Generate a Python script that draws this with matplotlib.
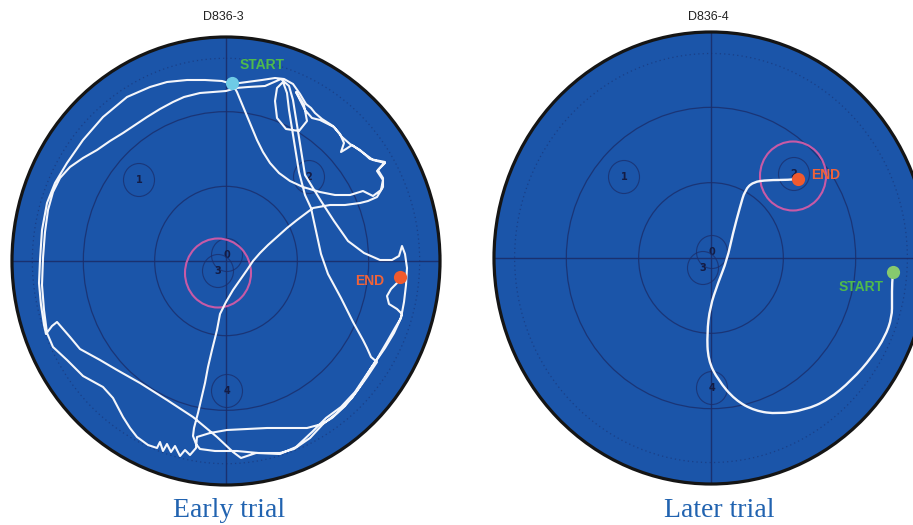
import matplotlib
matplotlib.use("Agg")
import matplotlib.pyplot as plt
from matplotlib.patches import Ellipse, PathPatch
from matplotlib.path import Path
import numpy as np

W, H = 913, 525

# ---------------- data (pool/camera units, origin = pool centre, y downward) ----------------
trial_ids = ["D836-3", "D836-4"]
captions = ["Early trial", "Later trial"]

early_x = [6, 11, 16, 21, 26, 31, 37, 44, 53, 64, 77, 94, 109, 124, 137, 147, 155, 157, 151, 159,
           147, 136, 126, 120, 115, 118, 114, 107, 96, 89, 85, 80, 74, 67, 58, 49, 36, 21, 6,
           -4, -21, -39, -59, -76, -99, -123, -143, -159, -171, -179, -184, -186, -187, -185, -182, -180,
           -174, -169, -162, -156, -146, -126, -109, -86, -59, -33, -9, 7, 15,
           30, 54, 68, 84, 97, 111, 126, 138, 145, 151, 161, 169, 175, 178, 180, 181, 179, 176,
           173, 166, 154, 138, 122, 108, 95, 87, 79, 75, 71, 67, 63, 55,
           39, 22, 10, 0,
           -13, -26, -42, -53, -66, -79, -91, -103, -116, -129, -143, -156, -166, -173, -178, -181, -183, -184, -182, -179,
           -173, -159, -143, -123, -113, -103, -96, -89, -78, -69,
           -66, -63, -59, -55, -51, -46, -41, -36, -30,
           -29, -16, 1, 21, 41, 64, 81, 96, 106, 119, 131, 141, 147, 151, 145,
           141, 137, 127, 115, 102, 95, 90, 85, 79, 73, 67, 63, 61, 57,
           51, 49, 51, 60, 73, 81, 78, 70,
           79, 86, 94, 108, 116, 124, 134, 144, 159, 152, 157, 157,
           151, 142, 134, 119, 104, 87, 71, 61, 51, 42, 34, 27, 21, 14, 7, 0, -6, -9, -14, -18, -21, -25, -28, -32, -33, -30, -26,
           -11, 11, 32, 54, 70, 86, 100, 115, 129, 141, 150, 159, 168, 174, 176, 171, 163, 161, 165, 171, 174]
early_y = [-178, -169, -157, -145, -133, -121, -109, -98, -88, -80, -74, -69, -66, -66, -70, -65, -71, -81, -90, -98,
           -101, -109, -116, -112, -109, -118, -127, -135, -142, -148, -153, -157, -167, -177, -182, -183, -181, -179, -177,
           -180, -181, -181, -179, -174, -164, -144, -121, -98, -78, -58, -31, -1, 22, 44, 64, 73,
           65, 61, 69, 76, 88, 99, 109, 122, 139, 156, 176, 191, 197,
           192, 192, 188, 177, 163, 152, 137, 119, 107, 98, 81, 67, 57, 41, 24, 7, -7, -15,
           -5, -1, -1, -8, -20, -40, -60, -73, -86, -111, -136, -161, -175, -182,
           -175, -174, -173, -170,
           -169, -168, -164, -159, -152, -144, -136, -128, -120, -111, -103, -94, -83, -69, -51, -29, -3, 24, 49, 72,
           86, 99, 115, 126, 137, 156, 167, 176, 184, 187,
           181, 190, 183, 191, 185, 195, 189, 194, 187,
           176, 172, 169, 168, 167, 167, 167, 163, 157, 145, 130, 116, 107, 101, 96,
           87, 79, 61, 37, 13, -7, -30, -53, -66, -89, -126, -151, -168, -179,
           -173, -160, -143, -132, -130, -140, -156, -169,
           -151, -143, -141, -134, -124, -117, -111, -102, -99, -91, -83, -74,
           -64, -60, -58, -56, -56, -53, -41, -33, -24, -16, -8, 0, 9, 19, 29, 41, 53, 69, 89, 106, 122, 139, 152, 167, 175, 183, 188,
           190, 190, 192, 193, 186, 171, 157, 146, 131, 113, 100, 87, 72, 59, 53, 48, 43, 35, 28, 22, 16]

later_x = [182, 181, 181, 181, 174, 161, 141, 117, 94, 67, 44, 24, 7, -3, -4, -1, 7, 16, 22, 29, 34, 42, 57, 77, 87]
later_y = [14, 25, 42, 59, 79, 99, 122, 142, 152, 156, 153, 142, 122, 102, 75, 49, 25, 2, -25, -51, -68, -76, -78, -78, -79]

# platform zones (label, x, y) and target (goal) ring centres
zone_labels = ["1", "2", "0", "3", "4"]
zone_x = [-87, 83, 1, -8, 1]
zone_y = [-81, -84, -6, 10, 130]
target_x = [-8, 82]
target_y = [12, -82]

# pool geometry (camera units)
pool_rx = [214, 217]
pool_ry = [224, 226]
pool_centre_px = [(226, 261), (711, 258)]

# ---------------- styles ----------------
POOL = "#1b55a9"
GRID = "#1a2d6a"
EDGE = "#151515"
PINK = "#c85aa6"
TRACK = "#f4f6fb"
START_DOT = ["#6ecbe6", "#86c96e"]
START_TXT = "#4fba4b"
END_DOT = "#f05a2e"
END_TXT = "#f0633a"
CAPTION = "#2163b0"


def smooth_path(xs, ys):
    """Quadratic Bezier path through the midpoints, using the samples as control points."""
    pts = np.column_stack([xs, ys]).astype(float)
    verts = [pts[0]]
    codes = [Path.MOVETO]
    for k in range(1, len(pts) - 1):
        mid = (pts[k] + pts[k + 1]) / 2 if k < len(pts) - 2 else pts[k + 1]
        verts += [pts[k], mid]
        codes += [Path.CURVE3, Path.CURVE3]
    return Path(verts, codes)


fig = plt.figure(figsize=(W / 100, H / 100), dpi=100)
fig.patch.set_facecolor("white")

tracks = [(early_x, early_y), (later_x, later_y)]
start_offsets = [(30, 18), (-32, -15)]
end_offsets = [(-30, -4), (28, 4)]

for i in range(2):
    rx, ry = pool_rx[i], pool_ry[i]
    cx, cy = pool_centre_px[i]
    ax = fig.add_axes([(cx - rx) / W, 1 - (cy + ry) / H, 2 * rx / W, 2 * ry / H])
    ax.set_xlim(-rx, rx)
    ax.set_ylim(ry, -ry)
    ax.axis("off")

    ax.add_patch(Ellipse((0, 0), 2 * rx, 2 * ry, facecolor=POOL, edgecolor="none", zorder=0))
    for f, ls, lw, al in [(1 / 3, "-", 0.9, 0.8), (2 / 3, "-", 0.9, 0.8), (0.905, (0, (1, 2.5)), 0.9, 0.55)]:
        ax.add_patch(Ellipse((0, 0), 2 * rx * f, 2 * ry * f, facecolor="none",
                             edgecolor=GRID, lw=lw, ls=ls, alpha=al, zorder=1))
    ax.plot([-rx, rx], [0, 0], color=GRID, lw=1.0, alpha=0.9, zorder=1)
    ax.plot([0, 0], [-ry, ry], color=GRID, lw=1.0, alpha=0.9, zorder=1)

    for lab, zx, zy in zip(zone_labels, zone_x, zone_y):
        ax.add_patch(Ellipse((zx, zy), 31, 33, facecolor="none", edgecolor=GRID,
                             lw=0.8, alpha=0.75, zorder=1))
        ax.text(zx, zy, lab, ha="center", va="center", fontsize=7, color="#141c44",
                fontweight="bold", zorder=1)

    ax.add_patch(Ellipse((target_x[i], target_y[i]), 66, 69, facecolor="none",
                         edgecolor=PINK, lw=1.5, zorder=2))

    ax.add_patch(Ellipse((0, 0), 2 * rx, 2 * ry, facecolor="none", edgecolor=EDGE,
                         lw=2.3, zorder=6, clip_on=False))

    tx, ty = tracks[i]
    if i == 0:
        ax.plot(tx, ty, color=TRACK, lw=1.5, solid_joinstyle="round",
                solid_capstyle="round", zorder=3)
    else:
        ax.add_patch(PathPatch(smooth_path(tx, ty), facecolor="none", edgecolor=TRACK,
                               lw=1.7, joinstyle="round", capstyle="round", zorder=3))

    ax.plot(tx[0], ty[0], "o", ms=9.5, color=START_DOT[i], mec="none", zorder=4)
    ax.plot(tx[-1], ty[-1], "o", ms=9.5, color=END_DOT, mec="none", zorder=4)
    ax.annotate("START", (tx[0], ty[0]), xytext=start_offsets[i], textcoords="offset pixels",
                ha="center", va="center", fontsize=10, fontweight="bold",
                color=START_TXT, family="Liberation Sans", zorder=5)
    ax.annotate("END", (tx[-1], ty[-1]), xytext=end_offsets[i], textcoords="offset pixels",
                ha="center", va="center", fontsize=10, fontweight="bold",
                color=END_TXT, family="Liberation Sans", zorder=5)

    fig.text((cx - 3) / W, 1 - 20 / H, trial_ids[i], ha="center", va="baseline",
             fontsize=9, family="Liberation Sans", color="#222222")
    fig.text((cx + 3 + 5 * i) / W, 1 - 517 / H, captions[i], ha="center", va="baseline",
             fontsize=20, family="Liberation Serif", color=CAPTION)

fig.savefig("out.png", dpi=100, facecolor="white")
